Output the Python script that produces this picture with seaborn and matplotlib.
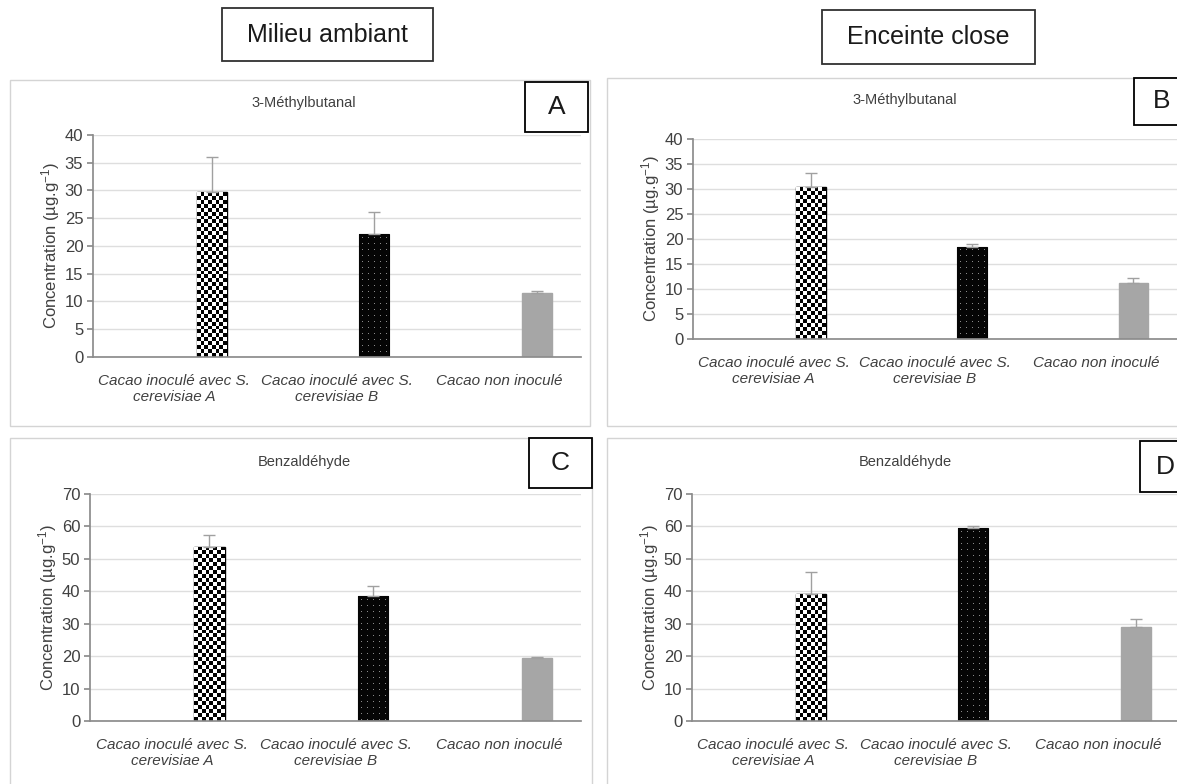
import numpy as np
import pandas as pd
import matplotlib
matplotlib.use("Agg")
import matplotlib.pyplot as plt
from matplotlib.patches import Rectangle
import seaborn as sns

sns.set_theme(style="white")
plt.rcParams["font.family"] = ["Liberation Sans Narrow", "Liberation Sans", "DejaVu Sans"]
plt.rcParams["mathtext.default"] = "regular"

W, H = 1177, 784

# ---- data ----
categories = ["Cacao inoculé avec S.\ncerevisiae A",
              "Cacao inoculé avec S.\ncerevisiae B",
              "Cacao non inoculé"]

methylbutanal_ambiant = [29.7, 22.1, 11.6]
methylbutanal_ambiant_err = [6.3, 4.0, 0.3]
methylbutanal_close = [30.4, 18.5, 11.3]
methylbutanal_close_err = [2.9, 0.5, 0.9]
benzaldehyde_ambiant = [53.8, 38.5, 19.3]
benzaldehyde_ambiant_err = [3.6, 3.2, 0.3]
benzaldehyde_close = [39.1, 59.4, 29.1]
benzaldehyde_close_err = [6.8, 0.6, 2.2]

column_titles = ["Milieu ambiant", "Enceinte close"]
compounds = ["3-Méthylbutanal", "Benzaldéhyde"]
panel_letters = ["A", "B", "C", "D"]
ylabel = "Concentration (µg.g$^{-1}$)"

# ---- layout helpers (pixel boxes: left, top, right, bottom) ----
fig = plt.figure(figsize=(W / 100, H / 100), dpi=100)
fig.patch.set_facecolor("white")


def frac_box(l, t, r, b):
    return [l / W, 1 - b / H, (r - l) / W, (b - t) / H]


def checker(nr, nc):
    i, j = np.indices((nr, nc))
    return ((i + j) % 2).astype(float)


def dots(nr, nc, step=6):
    i, j = np.indices((nr, nc))
    return ((i % step == 3) & (j % step == 3)).astype(float)


def draw_panel(axbox, frame, title_xy, letter_box, values, errs, ymax, ystep, title, letter):
    # outer light-grey chart frame
    l, t, r, b = frame
    fig.patches.append(Rectangle((l / W, 1 - b / H), (r - l) / W, (b - t) / H,
                                 transform=fig.transFigure, fill=False,
                                 edgecolor="#d4d4d4", linewidth=1.0, zorder=0))
    ax = fig.add_axes(frac_box(*axbox))
    df = pd.DataFrame({"groupe": categories, "conc": values, "serie": "mesure"})
    sns.barplot(data=df, x="groupe", y="conc", hue="serie",
                hue_order=["vide1", "vide2", "mesure"], dodge=True,
                width=0.69, gap=0.2, errorbar=None, legend=False, ax=ax)
    ax.set_ylim(0, ymax)
    ax.set_xlim(-0.5, 2.5)
    ax.set_yticks(np.arange(0, ymax + 0.1, ystep))
    ax.yaxis.grid(True, color="#dedede", linewidth=1.0)
    ax.set_axisbelow(True)
    for s in ["top", "right"]:
        ax.spines[s].set_visible(False)
    ax.spines["left"].set_color("#8c8c8c")
    ax.spines["bottom"].set_color("#8c8c8c")
    ax.tick_params(axis="y", left=True, length=4, color="#8c8c8c", labelsize=12,
                   labelcolor="#404040", pad=3)
    ax.tick_params(axis="x", bottom=False, labelsize=11, labelcolor="#404040", pad=6)
    for lab in ax.get_xticklabels():
        lab.set_fontstyle("italic")
    ax.set_xlabel("")
    ax.set_ylabel(ylabel, fontsize=12, color="#404040", labelpad=2)

    bars = sorted(ax.patches, key=lambda p: p.get_x())
    fig.canvas.draw()
    px_per_y = ax.transData.transform((0, 1))[1] - ax.transData.transform((0, 0))[1]
    px_per_x = ax.transData.transform((1, 0))[0] - ax.transData.transform((0, 0))[0]
    for k, p in enumerate(bars):
        x0, w, h = p.get_x(), p.get_width(), p.get_height()
        wpx, hpx = w * px_per_x, h * px_per_y
        if k == 0:
            p.set_facecolor("white")
            p.set_edgecolor("black")
            p.set_linewidth(1.0)
            cell = 4
            img = checker(int(np.ceil(hpx / cell)), int(np.ceil(wpx / cell)))
            im = ax.imshow(img, cmap="gray_r", vmin=0, vmax=1, interpolation="nearest",
                           extent=(x0, x0 + w, 0, h), aspect="auto", zorder=2.5)
            im.set_clip_path(p)
        elif k == 1:
            p.set_facecolor("black")
            p.set_edgecolor("black")
            p.set_linewidth(0.8)
            img = dots(int(np.ceil(hpx)), int(np.ceil(wpx)))
            im = ax.imshow(img, cmap=matplotlib.colors.ListedColormap(["#050505", "#8a8a8a"]),
                           vmin=0, vmax=1, interpolation="nearest",
                           extent=(x0, x0 + w, 0, h), aspect="auto", zorder=2.5)
            im.set_clip_path(p)
        else:
            p.set_facecolor("#a6a6a6")
            p.set_edgecolor("#a6a6a6")
    centers = [p.get_x() + p.get_width() / 2 for p in bars]
    ax.errorbar(centers, values, yerr=[np.zeros(len(errs)), errs], fmt="none",
                ecolor="#a0a0a0", elinewidth=1.0, capsize=4, capthick=1.0, zorder=3)
    ax.set_ylim(0, ymax)
    ax.set_xlim(-0.5, 2.5)

    fig.text(title_xy[0] / W, 1 - title_xy[1] / H, title, ha="center", va="center",
             fontsize=10.5, color="#404040")
    bl, bt, br, bb = letter_box
    fig.patches.append(Rectangle((bl / W, 1 - bb / H), (br - bl) / W, (bb - bt) / H,
                                 transform=fig.transFigure, facecolor="white",
                                 edgecolor="black", linewidth=1.3, zorder=5))
    fig.text((bl + br) / 2 / W, 1 - (bt + bb) / 2 / H, letter, ha="center", va="center",
             fontsize=19, color="#1a1a1a", zorder=6,
             family=["Liberation Sans", "DejaVu Sans"])
    return ax


draw_panel((93, 135, 581, 357), (10, 80, 590, 426), (304, 103), (525, 82, 588, 132),
           methylbutanal_ambiant, methylbutanal_ambiant_err, 40, 5, compounds[0], panel_letters[0])
draw_panel((693, 139, 1177, 339), (607, 78, 1190, 426), (905, 100), (1134, 78, 1190, 125),
           methylbutanal_close, methylbutanal_close_err, 40, 5, compounds[0], panel_letters[1])
draw_panel((90, 494, 581, 721), (10, 438, 592, 790), (304, 462), (529, 438, 592, 488),
           benzaldehyde_ambiant, benzaldehyde_ambiant_err, 70, 10, compounds[1], panel_letters[2])
draw_panel((692, 494, 1180, 721), (607, 438, 1190, 790), (905, 462), (1140, 441, 1190, 492),
           benzaldehyde_close, benzaldehyde_close_err, 70, 10, compounds[1], panel_letters[3])

# column headers in boxes
for txt, (l, t, r, b) in zip(column_titles, [(222, 8, 433, 61), (822, 10, 1035, 64)]):
    fig.patches.append(Rectangle((l / W, 1 - b / H), (r - l) / W, (b - t) / H,
                                 transform=fig.transFigure, facecolor="white",
                                 edgecolor="#303030", linewidth=1.3))
    fig.text((l + r) / 2 / W, 1 - (t + b) / 2 / H, txt, ha="center", va="center",
             fontsize=18, color="#1a1a1a", family=["Liberation Sans", "DejaVu Sans"])

fig.savefig("out.png", dpi=100)
